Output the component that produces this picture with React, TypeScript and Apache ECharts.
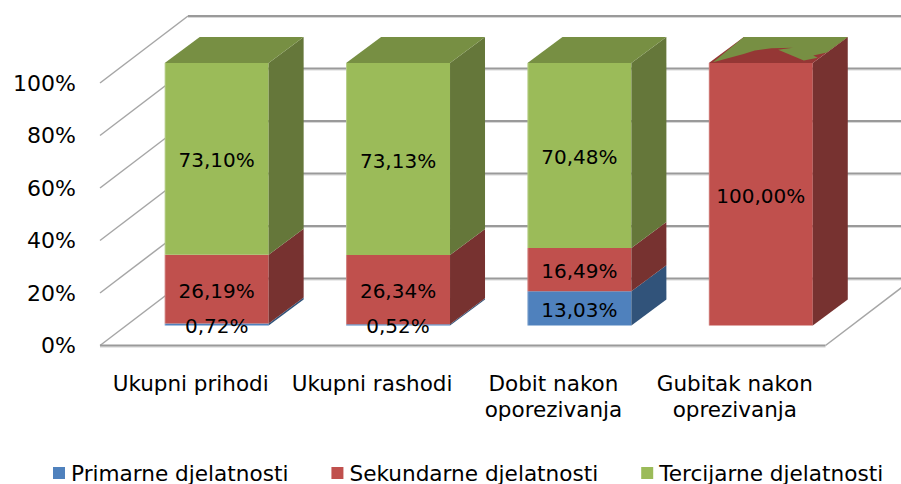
import React, { useEffect, useRef } from "react";
import * as echarts from "echarts";

const categories = ["Ukupni prihodi", "Ukupni rashodi", "Dobit nakon\noporezivanja", "Gubitak nakon\noprezivanja"];
const primarne = [0.72, 0.52, 13.03, 0];
const sekundarne = [26.19, 26.34, 16.49, 100];
const tercijarne = [73.1, 73.13, 70.48, 0];
const ticks = [0, 20, 40, 60, 80, 100];
const seriesNames = ["Primarne djelatnosti", "Sekundarne djelatnosti", "Tercijarne djelatnosti"];
const seriesValues = [primarne, sekundarne, tercijarne];
const frontColors = ["#4F81BD", "#C0504D", "#9BBB59"];
const sideColors = ["#31537A", "#773230", "#65773A"];
const topColors = ["#3F6797", "#953735", "#778F43"];

// Depth of the 3-D box, in pixels
const WALL = [88, -67];
const BAR_GAP = [26, -20];
const BAR_DEPTH = [35, -26];
const BAR_RATIO = 0.573;
const FONT = "'DejaVu Sans', Verdana, sans-serif";

// Outline (u along the width, v along the depth) of the green face that fights the red one on the last bar's top
const flickerOutline = [
  [0.03, 0.03], [0.217, 0.35], [0.28, 0.48], [0.41, 0.57], [0.61, 0.585], [0.495, 0.51],
  [0.88, 0.1], [0.98, 0.2], [0.907, 0.29], [1, 0.4], [1, 1], [0, 1],
];

function cumulative(seriesIndex: number) {
  return categories.map((_, i) => {
    let start = 0;
    for (let s = 0; s < seriesIndex; s++) start += seriesValues[s][i];
    return [i, start, start + seriesValues[seriesIndex][i], seriesValues[seriesIndex][i]];
  });
}

function formatPct(v: number) {
  return v.toFixed(2).replace(".", ",") + "%";
}

function renderGrid(params: any, api: any) {
  const v = api.value(0);
  const y = api.coord([0, v])[1];
  const cs = params.coordSys;
  const x0 = cs.x;
  const x1 = cs.x + cs.width;
  const children: any[] = [];
  const backY = y + WALL[1];
  const stroke = { stroke: "#9A9A9A", lineWidth: 2, fill: "none" };
  children.push({
    type: "line",
    shape: { x1: x0 + WALL[0], y1: backY + 1.5, x2: 901, y2: backY + 1.5 },
    style: { stroke: "#D8D8D8", lineWidth: 1 },
  });
  children.push({ type: "line", shape: { x1: x0 + WALL[0], y1: backY, x2: 901, y2: backY }, style: stroke });
  children.push({
    type: "line",
    shape: { x1: x0, y1: y, x2: x0 + WALL[0], y2: backY },
    style: { stroke: "#A6A6A6", lineWidth: 1.5 },
  });
  if (v === 0) {
    children.push({
      type: "line",
      shape: { x1: x0, y1: y + 1.5, x2: x1, y2: y + 1.5 },
      style: { stroke: "#D0D0D0", lineWidth: 1 },
    });
    children.push({ type: "line", shape: { x1: x0, y1: y, x2: x1, y2: y }, style: stroke });
    children.push({
      type: "line",
      shape: { x1: x1, y1: y, x2: x1 + WALL[0], y2: backY },
      style: { stroke: "#A6A6A6", lineWidth: 1.5 },
    });
  }
  return { type: "group", children };
}

function makeBarRenderer(seriesIndex: number) {
  return (_params: any, api: any) => {
    const idx = api.value(0);
    const start = api.value(1);
    const end = api.value(2);
    const value = api.value(3);
    const total = seriesValues.reduce((a, s) => a + s[idx], 0);
    const bottom = api.coord([idx, start]);
    const top = api.coord([idx, end]);
    const width = api.size([1, 0])[0] * BAR_RATIO;
    const left = bottom[0] - width / 2 + BAR_GAP[0];
    const right = left + width;
    const yB = bottom[1] + BAR_GAP[1];
    const yT = top[1] + BAR_GAP[1];
    const [dx, dy] = BAR_DEPTH;
    const children: any[] = [];
    if (value > 0) {
      children.push({
        type: "polygon",
        shape: { points: [[left, yB], [right, yB], [right, yT], [left, yT]] },
        style: { fill: frontColors[seriesIndex] },
      });
      children.push({
        type: "polygon",
        shape: { points: [[right, yB], [right + dx, yB + dy], [right + dx, yT + dy], [right, yT]] },
        style: { fill: sideColors[seriesIndex] },
      });
      children.push({
        type: "line",
        shape: { x1: left + 0.5, y1: yB, x2: left + 0.5, y2: yT },
        style: { stroke: "#FFFFFF", opacity: 0.25, lineWidth: 1 },
      });
      const isTopmost = Math.abs(end - Math.min(total, 100)) < 0.02 || end >= 99.9;
      if (isTopmost) {
        children.push({
          type: "polygon",
          shape: { points: [[left, yT], [right, yT], [right + dx, yT + dy], [left + dx, yT + dy]] },
          style: { fill: topColors[seriesIndex] },
        });
      }
      children.push({
        type: "text",
        z2: 100,
        style: {
          x: (left + right) / 2,
          y: (yB + yT) / 2 + 1.5,
          text: formatPct(value),
          fill: "#000000",
          font: `20px ${FONT}`,
          align: "center",
          verticalAlign: "middle",
        },
      });
    } else if (seriesIndex === 2 && start >= 99.9) {
      // zero-height green segment sitting on a full red bar
      children.push({
        type: "polygon",
        shape: {
          points: flickerOutline.map(([u, v]) => [left + width * u + dx * v, yT + dy * v]),
        },
        style: { fill: topColors[2] },
      });
    }
    return { type: "group", children };
  };
}

export default function App() {
  const ref = useRef<HTMLDivElement>(null);
  useEffect(() => {
    const chart = echarts.init(ref.current!, undefined, { renderer: "svg" });
    chart.setOption({
      animation: false,
      grid: { left: 100, top: 83, width: 725.5, height: 262.5, containLabel: false },
      legend: {
        data: seriesNames,
        left: 53,
        top: 462,
        padding: 0,
        itemGap: 43,
        itemWidth: 12,
        itemHeight: 12,
        icon: "rect",
        selectedMode: false,
        textStyle: { fontFamily: FONT, fontSize: 21.6, color: "#000", padding: [0, 0, 0, 1] },
      },
      xAxis: {
        type: "category",
        data: categories,
        axisLine: { show: false },
        axisTick: { show: false },
        axisLabel: {
          interval: 0,
          margin: 25,
          fontFamily: FONT,
          fontSize: 21.5,
          color: "#000",
          lineHeight: 26,
          align: "center",
        },
      },
      yAxis: {
        type: "value",
        min: 0,
        max: 100,
        interval: 20,
        axisLine: { show: false },
        axisTick: { show: false },
        splitLine: { show: false },
        axisLabel: { formatter: "{value}%", margin: 24, fontFamily: FONT, fontSize: 22, color: "#000" },
      },
      series: [
        {
          type: "custom",
          name: "grid",
          silent: true,
          clip: false,
          z: 1,
          renderItem: renderGrid,
          data: ticks.map((t) => [t]),
          encode: { y: 0 },
        },
        ...seriesNames.map((name, s) => ({
          type: "custom",
          name,
          silent: true,
          clip: false,
          z: 2,
          itemStyle: { color: frontColors[s] },
          renderItem: makeBarRenderer(s),
          data: cumulative(s),
          encode: { x: 0, y: [1, 2] },
        })),
      ],
    });
    return () => chart.dispose();
  }, []);
  return <div ref={ref} style={{ position: "absolute", left: 0, top: 0, width: 901, height: 484, overflow: "hidden", background: "#fff" }} />;
}
